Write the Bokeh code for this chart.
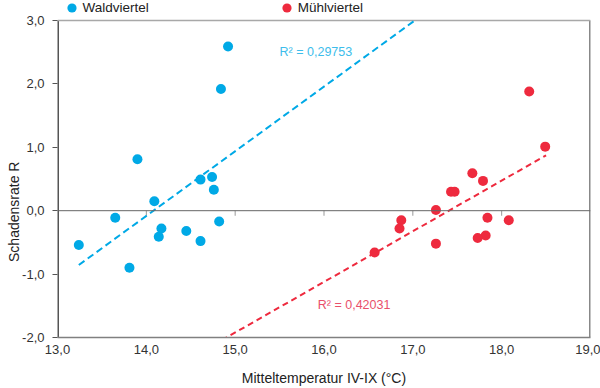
import numpy as np
from bokeh.plotting import figure
from bokeh.models import Range1d, FixedTicker, Span, Label, Legend, LegendItem
from bokeh.embed import file_html
from bokeh.resources import INLINE

# ---- data ----
wald_temp = [13.24, 13.65, 13.81, 13.90, 14.09, 14.14, 14.17, 14.45, 14.61, 14.61,
             14.74, 14.76, 14.82, 14.84, 14.92]
wald_rate = [-0.54, -0.11, -0.90, 0.81, 0.15, -0.41, -0.28, -0.32, 0.49, -0.48,
             0.53, 0.33, -0.17, 1.92, 2.59]
muehl_temp = [18.31, 18.49, 17.67, 17.79, 17.43, 17.47, 17.26, 16.87, 16.85, 17.26,
              16.57, 17.84, 18.08, 17.82, 17.73]
muehl_rate = [1.88, 1.01, 0.59, 0.47, 0.30, 0.30, 0.01, -0.15, -0.28, -0.52,
              -0.66, -0.11, -0.15, -0.39, -0.43]
wald_trend_span = [13.24, 17.2]
muehl_trend_span = [14.85, 18.5]
wald_r2 = "R² = 0,29753"
muehl_r2 = "R² = 0,42031"
series_names = ["Waldviertel", "Mühlviertel"]
x_ticks = [13, 14, 15, 16, 17, 18, 19]
x_tick_labels = ["13,0", "14,0", "15,0", "16,0", "17,0", "18,0", "19,0"]
y_ticks = [-2, -1, 0, 1, 2, 3]
y_tick_labels = ["-2,0", "-1,0", "0,0", "1,0", "2,0", "3,0"]
x_title = "Mitteltemperatur IV-IX (°C)"
y_title = "Schadensrate R"

BLUE = "#00A9E6"
RED = "#EE2A3E"
FONT = "Liberation Sans"
X0, X1 = x_ticks[0], x_ticks[-1]
Y0, Y1 = y_ticks[0], y_ticks[-1]

# the frame reaches the top of the canvas so that the legend row fits inside it
p = figure(width=600, height=388, output_backend="svg", toolbar_location=None, title=None,
           x_range=Range1d(X0, X1), y_range=Range1d(Y0, Y1 + 0.315),
           min_border_left=57, min_border_right=10, min_border_top=0, min_border_bottom=50)
p.grid.visible = False
p.background_fill_color = "white"
p.border_fill_color = "white"
p.outline_line_color = None

# axes
p.xaxis.ticker = FixedTicker(ticks=x_ticks)
p.xaxis.major_label_overrides = {t: l for t, l in zip(x_ticks, x_tick_labels)}
p.yaxis.ticker = FixedTicker(ticks=y_ticks)
p.yaxis.major_label_overrides = {t: l for t, l in zip(y_ticks, y_tick_labels)}
for ax in (p.xaxis, p.yaxis):
    ax.major_label_text_font = FONT
    ax.major_label_text_font_size = "13px"
    ax.major_label_text_color = "#333333"
    ax.minor_tick_line_color = None
    ax.major_tick_in = 0
    ax.axis_label_text_font = FONT
    ax.axis_label_text_font_size = "14px"
    ax.axis_label_text_font_style = "normal"
    ax.axis_label_text_color = "#222222"
p.xaxis.major_tick_line_color = None
p.xaxis.major_tick_out = 0
p.xaxis.axis_line_color = "#808080"
p.xaxis.axis_line_width = 1.5
p.xaxis.major_label_standoff = 7
p.xaxis.axis_label = x_title
p.xaxis.axis_label_standoff = 13
p.yaxis.axis_line_color = None
p.yaxis.major_tick_line_color = "#555555"
p.yaxis.major_tick_out = 5
p.yaxis.major_label_standoff = 8
# trailing no-break spaces move the visible title down towards the zero line
p.yaxis.axis_label = y_title + "\u00a0" * 22
p.yaxis.axis_label_standoff = -3

# plot box: left (dark), top and right (grey)
p.segment(x0=[X0], y0=[Y0], x1=[X0], y1=[Y1], line_color="#555555", line_width=3)
p.segment(x0=[X1], y0=[Y0], x1=[X1], y1=[Y1], line_color="#888888", line_width=3)
p.segment(x0=[X0], y0=[Y1], x1=[X1], y1=[Y1], line_color="#a8a8a8", line_width=1.5)

# zero line with downward ticks
p.add_layout(Span(location=0, dimension="width", line_color="#666666", line_width=1))
inner_ticks = x_ticks[1:-1]
p.segment(x0=inner_ticks, y0=[0] * len(inner_ticks), x1=inner_ticks,
          y1=[-0.08] * len(inner_ticks), line_color="#999999", line_width=1)

# trend lines (least squares of the series)
wk = np.polyfit(wald_temp, wald_rate, 1)
mk = np.polyfit(muehl_temp, muehl_rate, 1)
wx = np.array(wald_trend_span)
mx = np.array(muehl_trend_span)
wy = np.polyval(wk, wx)
# stop the blue trend line at the top of the value axis
if wy[-1] > Y1:
    wx[-1] = (Y1 - wk[1]) / wk[0]
    wy[-1] = Y1
p.line(wx, wy, line_color=BLUE, line_width=2, line_dash="7 4")
p.line(mx, np.polyval(mk, mx), line_color=RED, line_width=2, line_dash="6 4")

# points
rw = p.scatter(wald_temp, wald_rate, size=10, fill_color=BLUE, line_color=None)
rm = p.scatter(muehl_temp, muehl_rate, size=10, fill_color=RED, line_color=None)

# R² labels
p.add_layout(Label(x=15.5, y=2.51, text=wald_r2, text_color="#3DBDEB",
                   text_font=FONT, text_font_size="12.5px",
                   text_align="left", text_baseline="middle"))
p.add_layout(Label(x=15.93, y=-1.48, text=muehl_r2, text_color="#E9506A",
                   text_font=FONT, text_font_size="12.5px",
                   text_align="left", text_baseline="middle"))

# legend row at the top of the frame
lg = Legend(items=[LegendItem(label=series_names[0], renderers=[rw]),
                   LegendItem(label=series_names[1], renderers=[rm])],
            location=(2.5, 318.5), orientation="horizontal", glyph_width=23, glyph_height=23,
            label_standoff=0, padding=0, margin=0, spacing=126,
            border_line_color=None, background_fill_alpha=0,
            label_text_font=FONT, label_text_font_size="13.5px",
            label_text_color="#222222")
p.add_layout(lg, "center")

open("out.html", "w").write(file_html(p, INLINE))
